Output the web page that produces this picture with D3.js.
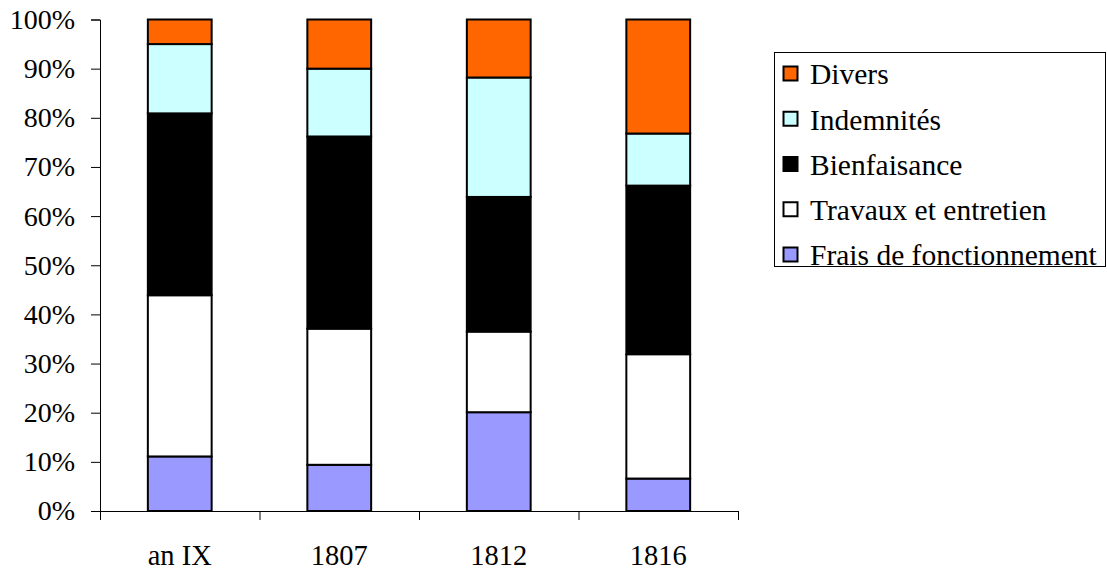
<!DOCTYPE html>
<html><head><meta charset="utf-8">
<script src="https://cdn.jsdelivr.net/npm/d3@7"></script>
<style>
body{margin:0;background:#fff;}
svg{display:block;}
</style></head>
<body>
<svg id="chart" width="1107" height="571"></svg>
<script>
// ---- data ----
const categories = ["an IX", "1807", "1812", "1816"];
const seriesNames = ["Frais de fonctionnement", "Travaux et entretien", "Bienfaisance", "Indemnités", "Divers"];
const frais = [11.1, 9.4, 20.1, 6.6];
const travaux = [32.8, 27.7, 16.4, 25.3];
const bienfaisance = [37.0, 39.1, 27.4, 34.3];
const indemnites = [14.1, 13.8, 24.3, 10.6];
const divers = [5.0, 10.0, 11.8, 23.2];
const seriesColors = ["#9999ff", "#ffffff", "#000000", "#ccffff", "#ff6600"];
const yTicks = [0,10,20,30,40,50,60,70,80,90,100];

const seriesValues = [frais, travaux, bienfaisance, indemnites, divers];
const rows = categories.map((c, i) => {
  const r = {cat: c};
  seriesNames.forEach((s, j) => r[s] = seriesValues[j][i]);
  return r;
});

(function () {
const FONT = "'Liberation Serif', 'Times New Roman', Times, serif";
const svg = d3.select("#chart");
const pLeft = 100, pRight = 738, pTop = 19.5, pBottom = 511;

const x = d3.scaleBand().domain(categories).range([pLeft, pRight]).paddingInner(0.6).paddingOuter(0.3);
const xb = d3.scaleLinear().domain([0, categories.length]).range([pLeft, pRight]);
const y = d3.scaleLinear().domain([0, 100]).range([pBottom, pTop]);

const stack = d3.stack().keys(seriesNames).offset(d3.stackOffsetExpand);
const stacked = stack(rows);

// y axis
const yAxis = svg.append("g").attr("transform", `translate(${pLeft},0)`)
  .call(d3.axisLeft(y).tickValues(yTicks).tickFormat(d => d + "%").tickSize(9).tickPadding(16));
yAxis.attr("font-family", FONT).attr("font-size", 28);
yAxis.select(".domain").attr("stroke", "#000");
yAxis.selectAll(".tick line").attr("stroke", "#000");
yAxis.selectAll("text").style("font-family", FONT).style("font-size", "28px").attr("fill", "#000");

// x axis (ticks at category boundaries)
const xAxis = svg.append("g").attr("transform", `translate(0,${pBottom})`)
  .call(d3.axisBottom(xb).tickValues(d3.range(categories.length + 1)).tickFormat("").tickSize(9).tickSizeOuter(0));
xAxis.select(".domain").attr("stroke", "#000");
xAxis.selectAll(".tick line").attr("stroke", "#000");

svg.append("g").selectAll("text").data(categories).join("text")
  .attr("x", d => x(d) + x.bandwidth() / 2)
  .attr("y", 565)
  .attr("text-anchor", "middle")
  .style("font-family", FONT)
  .style("font-size", "28.5px")
  .text(d => d);

// bars
const g = svg.append("g");
stacked.forEach((layer, j) => {
  g.append("g").selectAll("rect").data(layer).join("rect")
    .attr("x", d => x(d.data.cat))
    .attr("width", x.bandwidth())
    .attr("y", d => y(d[1] * 100))
    .attr("height", d => y(d[0] * 100) - y(d[1] * 100))
    .attr("fill", seriesColors[j])
    .attr("stroke", "#000")
    .attr("stroke-width", 2);
});

// legend
const lg = svg.append("g");
lg.append("rect").attr("x", 774.5).attr("y", 52.5).attr("width", 331).attr("height", 214)
  .attr("fill", "#fff").attr("stroke", "#000").attr("stroke-width", 1);
const legendOrder = seriesNames.map((s, j) => ({name: s, color: seriesColors[j]})).reverse();
const rowY = d3.scalePoint().domain(legendOrder.map(d => d.name)).range([74, 255]);
const items = lg.selectAll("g.item").data(legendOrder).join("g").attr("class", "item")
  .attr("transform", d => `translate(0,${rowY(d.name)})`);
items.append("rect").attr("x", 783.5).attr("y", -7.5).attr("width", 14).attr("height", 14)
  .attr("fill", d => d.color).attr("stroke", "#000").attr("stroke-width", 2);
items.append("text").attr("x", 810).attr("y", 0).attr("dy", "0.35em")
  .style("font-family", FONT)
  .style("font-size", "29.5px").text(d => d.name);
})();
</script>
</body></html>
